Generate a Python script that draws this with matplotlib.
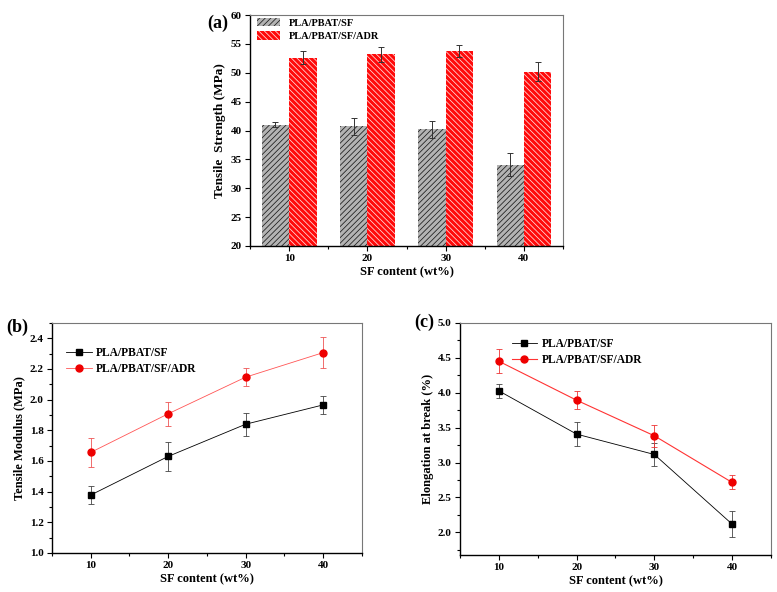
import matplotlib
matplotlib.use("Agg")
import matplotlib.pyplot as plt
import numpy as np
from matplotlib.ticker import MultipleLocator, FormatStrFormatter

plt.rcParams['font.family'] = ['Liberation Serif', 'DejaVu Serif']
plt.rcParams['font.weight'] = 'bold'
plt.rcParams['hatch.linewidth'] = 0.55

sf_content = [10, 20, 30, 40]
series_names = ["PLA/PBAT/SF", "PLA/PBAT/SF/ADR"]

strength_sf = [41.0, 40.7, 40.2, 34.1]
strength_sf_err = [0.4, 1.45, 1.45, 2.0]
strength_adr = [52.6, 53.2, 53.8, 50.2]
strength_adr_err = [1.1, 1.3, 1.1, 1.7]

modulus_sf = [1.378, 1.63, 1.840, 1.966]
modulus_sf_err = [0.061, 0.096, 0.074, 0.058]
modulus_adr = [1.656, 1.908, 2.147, 2.307]
modulus_adr_err = [0.092, 0.079, 0.06, 0.10]

elong_sf = [4.027, 3.407, 3.115, 2.118]
elong_sf_err = [0.105, 0.167, 0.17, 0.186]
elong_adr = [4.451, 3.893, 3.383, 2.715]
elong_adr_err = [0.17, 0.13, 0.155, 0.10]

fig = plt.figure(figsize=(7.77, 5.92), dpi=100)

def style_axes(ax):
    for s in ['left', 'bottom']:
        ax.spines[s].set_color('black')
        ax.spines[s].set_linewidth(1.0)
    for s in ['top', 'right']:
        ax.spines[s].set_color('#777777')
        ax.spines[s].set_linewidth(0.8)
    ax.tick_params(which='both', direction='out', labelsize=8, width=0.8, pad=2.5)
    ax.tick_params(which='major', length=3.5)
    ax.tick_params(which='minor', length=2)
    ax.set_xlim(5, 45)
    ax.xaxis.set_major_locator(MultipleLocator(10))
    ax.xaxis.set_minor_locator(MultipleLocator(5))
    ax.set_xlabel("SF content (wt%)", fontsize=9, fontweight='bold', labelpad=2)
    for lab in ax.get_xticklabels() + ax.get_yticklabels():
        lab.set_fontweight('bold')

# (a)
ax1 = fig.add_axes([0.3218, 0.5845, 0.4028, 0.390])
x = np.array(sf_content, dtype=float)
w = 3.5
ax1.bar(x - w / 2, strength_sf, width=w, color='#b3b3b3', edgecolor='#1a1a1a',
        hatch='//////', linewidth=0, label=series_names[0])
ax1.bar(x + w / 2, strength_adr, width=w, color='#ff0a0a', edgecolor='#ffe0e0',
        hatch='\\\\\\\\\\\\', linewidth=0, label=series_names[1])
ax1.errorbar(x - w / 2, strength_sf, yerr=strength_sf_err, fmt='none',
             ecolor='#333333', elinewidth=0.7, capsize=2, capthick=0.7)
ax1.errorbar(x + w / 2, strength_adr, yerr=strength_adr_err, fmt='none',
             ecolor='#333333', elinewidth=0.7, capsize=2, capthick=0.7)
ax1.set_ylim(20, 60)
ax1.yaxis.set_major_locator(MultipleLocator(5))
ax1.set_ylabel("Tensile  Strength (MPa)", fontsize=9.5, fontweight='bold', labelpad=3)
style_axes(ax1)
ax1.legend(loc='upper left', fontsize=7.5, frameon=False, handlelength=2.2,
           handleheight=0.9, borderaxespad=0.3, labelspacing=0.35,
           bbox_to_anchor=(0.0, 1.02))
fig.text(0.267, 0.975, "(a)", fontsize=13, fontweight='bold', va='top', ha='left')

# (b)
ax2 = fig.add_axes([0.0669, 0.0659, 0.399, 0.3885])
e1 = ax2.errorbar(sf_content, modulus_sf, yerr=modulus_sf_err, color='black', lw=0.6,
                  marker='s', ms=4.5, capsize=2, elinewidth=0.6, capthick=0.6,
                  ecolor='#444444', label=series_names[0])
e2 = ax2.errorbar(sf_content, modulus_adr, yerr=modulus_adr_err, color='#ff5555', lw=0.6,
                  marker='o', ms=5, mfc='#ee0000', mec='#ee0000', capsize=2,
                  elinewidth=0.6, capthick=0.6, ecolor='#ee5555', label=series_names[1])
ax2.set_ylim(1.0, 2.5)
ax2.yaxis.set_major_locator(MultipleLocator(0.2))
ax2.yaxis.set_minor_locator(MultipleLocator(0.1))
ax2.yaxis.set_major_formatter(FormatStrFormatter('%.1f'))
ax2.set_ylabel("Tensile Modulus (MPa)", fontsize=9, fontweight='bold', labelpad=3)
style_axes(ax2)
ax2.legend(handles=[e1[0], e2[0]], labels=series_names, loc='upper left',
           fontsize=8.3, frameon=False, handlelength=2.2, handletextpad=0.4,
           borderaxespad=0.3, labelspacing=0.35, bbox_to_anchor=(0.02, 0.93))
fig.text(0.008, 0.462, "(b)", fontsize=13, fontweight='bold', va='top', ha='left')

# (c)
ax3 = fig.add_axes([0.592, 0.0625, 0.4002, 0.392])
f1 = ax3.errorbar(sf_content, elong_sf, yerr=elong_sf_err, color='black', lw=0.6,
                  marker='s', ms=4.5, capsize=2, elinewidth=0.6, capthick=0.6,
                  ecolor='#444444', label=series_names[0])
f2 = ax3.errorbar(sf_content, elong_adr, yerr=elong_adr_err, color='#ff3333', lw=0.8,
                  marker='o', ms=5, mfc='#ee0000', mec='#ee0000', capsize=2,
                  elinewidth=0.6, capthick=0.6, ecolor='#ee3333', label=series_names[1])
ax3.set_ylim(1.675, 5.0)
ax3.yaxis.set_major_locator(MultipleLocator(0.5))
ax3.yaxis.set_minor_locator(MultipleLocator(0.25))
ax3.yaxis.set_major_formatter(FormatStrFormatter('%.1f'))
ax3.set_ylabel("Elongation at break (%)", fontsize=9, fontweight='bold', labelpad=3)
style_axes(ax3)
ax3.legend(handles=[f1[0], f2[0]], labels=series_names, loc='upper left',
           fontsize=8.3, frameon=False, handlelength=2.2, handletextpad=0.4,
           borderaxespad=0.3, labelspacing=0.35, bbox_to_anchor=(0.14, 0.97))
fig.text(0.533, 0.470, "(c)", fontsize=13, fontweight='bold', va='top', ha='left')

fig.savefig("out.png", dpi=100)
